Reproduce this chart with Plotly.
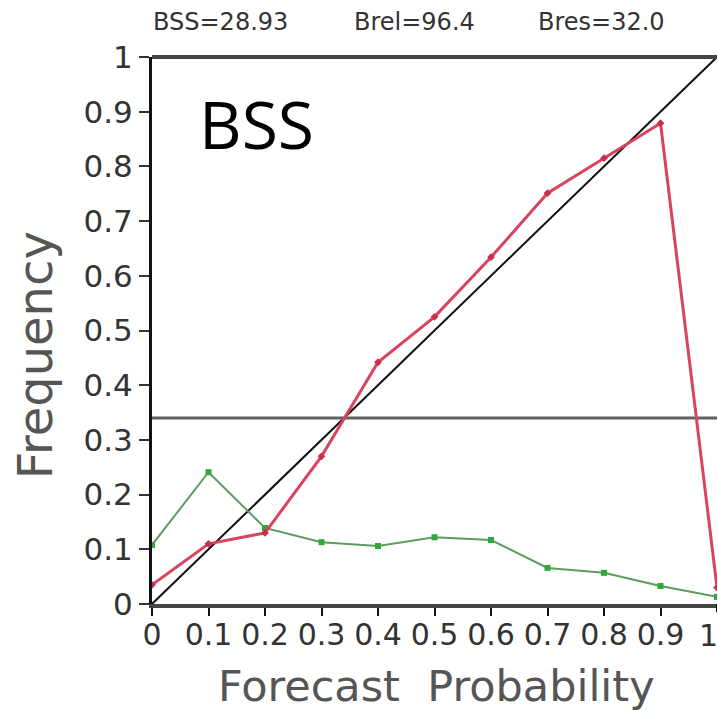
import plotly.graph_objects as go

prob = [0.0, 0.1, 0.2, 0.3, 0.4, 0.5, 0.6, 0.7, 0.8, 0.9, 1.0]
observed_freq = [0.035, 0.11, 0.13, 0.27, 0.442, 0.525, 0.634, 0.751, 0.815, 0.879, 0.03]
forecast_freq = [0.108, 0.241, 0.139, 0.113, 0.106, 0.122, 0.117, 0.066, 0.057, 0.033, 0.013]
climatology = 0.34
tick_vals = [0, 0.1, 0.2, 0.3, 0.4, 0.5, 0.6, 0.7, 0.8, 0.9, 1]
tick_text = ["0", "0.1", "0.2", "0.3", "0.4", "0.5", "0.6", "0.7", "0.8", "0.9", "1"]
header_items = ["BSS=28.93", "Brel=96.4", "Bres=32.0"]
header_pos = [0.122, 0.464, 0.796]
x_title = "Forecast  Probability"
y_title = "Frequency"

FONT = "DejaVu Sans, Verdana, sans-serif"

fig = go.Figure()
fig.add_trace(go.Scatter(x=[0, 1], y=[0, 1], mode="lines",
                         line=dict(color="#111111", width=2), hoverinfo="skip"))
fig.add_trace(go.Scatter(x=[0, 1], y=[climatology, climatology], mode="lines",
                         line=dict(color="#606060", width=3), hoverinfo="skip"))
fig.add_trace(go.Scatter(x=prob, y=forecast_freq, mode="lines+markers",
                         line=dict(color="#5f9a5f", width=2),
                         marker=dict(color="#2ea83a", size=6, symbol="square")))
fig.add_trace(go.Scatter(x=prob, y=observed_freq, mode="lines+markers",
                         line=dict(color="#d9435e", width=3),
                         marker=dict(color="#c8304c", size=6, symbol="diamond")))

annotations = [
    dict(text=t, xref="paper", yref="paper", x=xp, y=1, yshift=35,
         xanchor="center", yanchor="middle", showarrow=False,
         font=dict(size=24, color="#333333", family=FONT))
    for t, xp in zip(header_items, header_pos)
]
annotations.append(
    dict(text="BSS", xref="x", yref="y", x=0.08, y=0.88, xanchor="left",
         yanchor="middle", showarrow=False,
         font=dict(size=66, color="#000000", family="Open Sans, Noto Sans, sans-serif")))
# last x tick label sits on the window edge
annotations.append(
    dict(text=tick_text[-1], xref="paper", yref="paper", x=1, y=0, yshift=-31,
         xanchor="right", yanchor="middle", showarrow=False, xshift=3,
         font=dict(size=30, color="#333333", family=FONT)))
annotations.append(
    dict(text=x_title, xref="paper", yref="paper", x=0.503, y=-0.150,
         xanchor="center", yanchor="middle", showarrow=False,
         font=dict(size=43, color="#555555", family=FONT)))
annotations.append(
    dict(text=y_title, xref="paper", yref="paper", x=-0.207, y=0.455,
         xanchor="center", yanchor="middle", showarrow=False, textangle=-90,
         font=dict(size=48, color="#555555", family=FONT)))

fig.update_layout(
    width=718, height=711,
    margin=dict(l=152, r=1, t=57, b=107),
    paper_bgcolor="white", plot_bgcolor="white",
    showlegend=False,
    font=dict(family=FONT, color="#333333"),
    xaxis=dict(range=[0, 1], tickvals=tick_vals[:-1], ticktext=tick_text[:-1],
               showgrid=False, zeroline=False, showline=True, linecolor="#444444",
               linewidth=4, ticks="outside", ticklen=8, tickwidth=2,
               tickcolor="#111111", tickfont=dict(size=30, color="#333333"),
               ticklabelstandoff=-7),
    yaxis=dict(range=[0, 1], tickvals=tick_vals, ticktext=tick_text,
               showgrid=False, zeroline=False, showline=True, linecolor="#111111",
               linewidth=3, ticks="outside", ticklen=10, tickwidth=2,
               tickcolor="#333333", tickfont=dict(size=31, color="#333333")),
    shapes=[dict(type="line", xref="paper", yref="paper", x0=0, x1=1, y0=1, y1=1,
                 line=dict(color="#444444", width=4)),
            dict(type="line", xref="x", yref="paper", x0=1, x1=1, y0=0, y1=-0.015,
                 line=dict(color="#111111", width=2))],
    annotations=annotations,
)

fig.write_html("out.html")
